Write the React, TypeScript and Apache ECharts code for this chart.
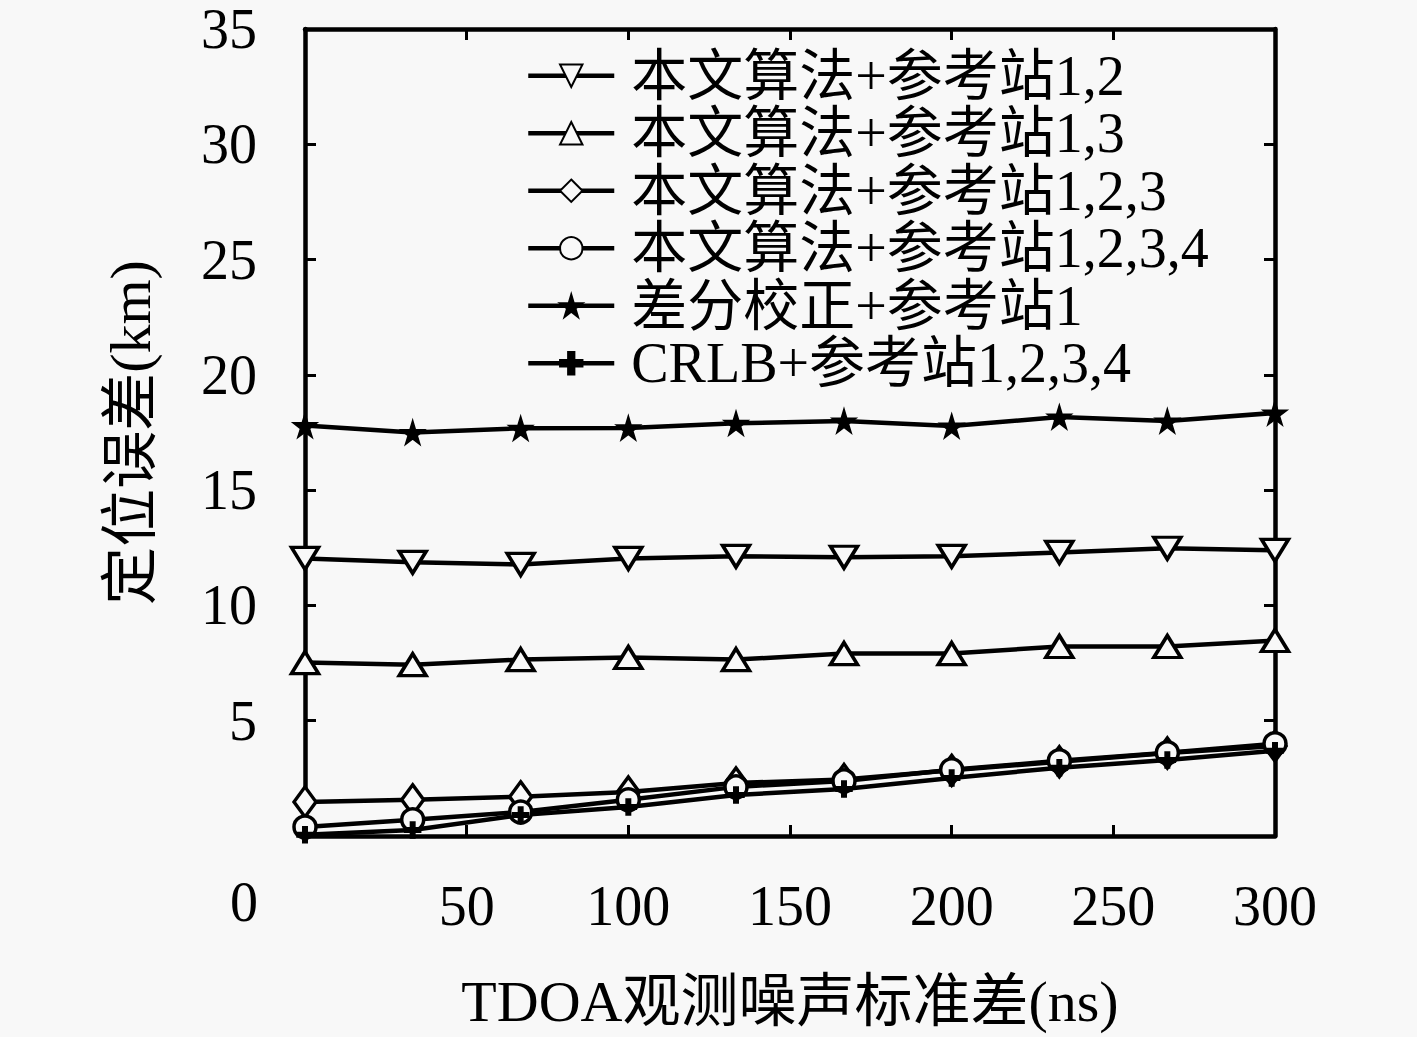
import React, { useEffect, useRef } from "react";
import * as echarts from "echarts";

const xValues = [0, 33.3, 66.7, 100, 133.3, 166.7, 200, 233.3, 266.7, 300];
const seriesNames = [
  "本文算法+参考站1,2",
  "本文算法+参考站1,3",
  "本文算法+参考站1,2,3",
  "本文算法+参考站1,2,3,4",
  "差分校正+参考站1",
  "CRLB+参考站1,2,3,4",
];
const ref12 = [12.04, 11.87, 11.78, 12.04, 12.13, 12.09, 12.13, 12.3, 12.48, 12.39];
const ref13 = [7.52, 7.43, 7.65, 7.74, 7.65, 7.91, 7.91, 8.22, 8.22, 8.48];
const ref123 = [1.48, 1.57, 1.7, 1.91, 2.3, 2.45, 2.85, 3.22, 3.6, 3.9];
const ref1234 = [0.39, 0.7, 1.04, 1.57, 2.13, 2.39, 2.87, 3.26, 3.61, 4.0];
const diffRef1 = [17.8, 17.5, 17.68, 17.7, 17.9, 18.0, 17.78, 18.17, 18.0, 18.35];
const crlb = [0.05, 0.26, 0.91, 1.26, 1.78, 2.04, 2.52, 2.96, 3.3, 3.7];

const FONT = '"Liberation Serif", "DejaVu Serif", "Noto Sans CJK SC", serif';
const BG = "#f8f8f8";

const STAR = "path://M50,0 L61,35 L98,35 L68,57 L79,91 L50,70 L21,91 L32,57 L2,35 L39,35 Z";
const PLUS = "path://M36,0 L64,0 L64,36 L100,36 L100,64 L64,64 L64,100 L36,100 L36,64 L0,64 L0,36 L36,36 Z";

export default function App() {
  const ref = useRef<HTMLDivElement>(null);
  useEffect(() => {
    document.body.style.margin = "0";
    document.body.style.background = BG;
    const chart = echarts.init(ref.current!, null, { renderer: "svg" });
    const pair = (ys: number[]) => xValues.map((x, i) => [x, ys[i]]);
    const mk = (
      name: string,
      ys: number[],
      symbol: string,
      size: number | number[],
      filled: boolean,
      rotate = 0
    ) => ({
      name,
      type: "line",
      data: pair(ys),
      symbol,
      symbolSize: size,
      symbolRotate: rotate,
      showAllSymbol: true,
      lineStyle: { color: "#000", width: 4.5 },
      itemStyle: {
        color: filled ? "#000" : BG,
        borderColor: "#000",
        borderWidth: filled ? 1.5 : 3.5,
      },
      emphasis: { disabled: true },
    });
    const axisCommon = {
      min: 0,
      axisLine: { show: true, onZero: false, lineStyle: { color: "#000", width: 4.5 } },
      axisTick: { show: true, inside: true, length: 11, lineStyle: { color: "#000", width: 3 } },
      splitLine: { show: false },
    };
    const labelCommon = {
      fontFamily: FONT,
      fontSize: 56,
      lineHeight: 40,
      color: "#000",
      formatter: (v: number) => (v === 0 ? "" : String(v)),
    };
    chart.setOption({
      animation: false,
      backgroundColor: BG,
      grid: { left: 305, right: 142, top: 29, bottom: 201, containLabel: false },
      legend: {
        left: 521,
        top: 42,
        orient: "vertical",
        itemWidth: 86,
        itemHeight: 28,
        itemGap: 0,
        selectedMode: false,
        data: seriesNames,
        lineStyle: { width: 4.5, color: "#000" },
        textStyle: {
          fontFamily: FONT,
          fontSize: 56,
          color: "#000",
          lineHeight: 57.5,
          padding: [0, 0, 0, 12],
        },
      },
      xAxis: [
        {
          ...axisCommon,
          type: "value",
          max: 300,
          interval: 50,
          position: "bottom",
          name: "TDOA观测噪声标准差(ns)",
          nameLocation: "middle",
          nameGap: 136,
          nameTextStyle: { fontFamily: FONT, fontSize: 58, color: "#000", verticalAlign: "top" },
          axisLabel: { ...labelCommon, margin: 50 },
        },
        {
          ...axisCommon,
          type: "value",
          max: 300,
          interval: 50,
          position: "top",
          axisLabel: { show: false },
        },
      ],
      yAxis: [
        {
          ...axisCommon,
          type: "value",
          max: 35,
          interval: 5,
          position: "left",
          name: "定位误差(km)",
          nameLocation: "middle",
          nameGap: 146,
          nameTextStyle: { fontFamily: FONT, fontSize: 58, color: "#000" },
          axisLabel: { ...labelCommon, margin: 48 },
        },
        {
          ...axisCommon,
          type: "value",
          max: 35,
          interval: 5,
          position: "right",
          axisLabel: { show: false },
        },
      ],
      graphic: [
        {
          type: "text",
          left: 230,
          top: 874,
          style: { text: "0", fontFamily: FONT, fontSize: 56, fill: "#000" },
          silent: true,
        },
      ],
      series: [
        mk(seriesNames[0], ref12, "triangle", [27, 22], false, 180),
        mk(seriesNames[1], ref13, "triangle", [27, 22], false),
        mk(seriesNames[2], ref123, "diamond", [22, 30], false),
        mk(seriesNames[3], ref1234, "circle", 22, false),
        mk(seriesNames[4], diffRef1, STAR, 24, true),
        mk(seriesNames[5], crlb, PLUS, 16, true),
      ],
    });
    return () => chart.dispose();
  }, []);
  return <div ref={ref} style={{ width: 1417, height: 1037 }} />;
}
